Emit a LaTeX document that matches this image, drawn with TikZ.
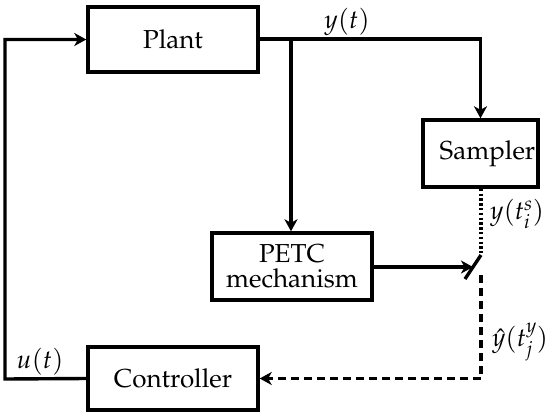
\documentclass[tikz,border=0pt]{standalone}
\usepackage[T1]{fontenc}
\usepackage{mathpazo}
\usetikzlibrary{arrows.meta}
\begin{document}
\begin{tikzpicture}[x=1pt,y=-1pt,
  font=\fontsize{26}{25}\selectfont,
  blk/.style={draw,line width=3.4pt,inner sep=0pt,align=center},
  wire/.style={line width=3.4pt},
  arr/.style={wire,-{Stealth[length=12pt,width=13pt,inset=3.5pt]}},
  dashln/.style={line width=3.4pt,dash pattern=on 8pt off 5pt},
  dotln/.style={line width=3.4pt,dash pattern=on 2.4pt off 2.4pt},
  lbl/.style={inner sep=0pt}]
\useasboundingbox (0,0) rectangle (550,416);
\node[blk,minimum width=170pt,minimum height=65pt] (plant) at (173,39.5) {Plant};
\node[blk,minimum width=115pt,minimum height=67pt] (sampler) at (480.5,153.5) {\hspace*{14pt}Sampler};
\node[blk,minimum width=160pt,minimum height=67pt] (petc) at (292,266.5) {PETC\\mechanism};
\node[blk,minimum width=170pt,minimum height=63pt] (ctrl) at (173,378.5) {Controller};
\coordinate (b) at (291,39);
\coordinate (sw) at (473,267);
\coordinate (swa) at (465,279);
\coordinate (swb) at (481,255);
\coordinate (dtop) at (481,253);
\coordinate (dbot) at (481,275);
\coordinate (lc) at (5,379);
\draw[arr] (plant.east |- b) -| (sampler.north);
\draw[arr] (b) -- (b |- petc.north);
\draw[arr] (petc.east |- sw) -- (sw);
\draw[wire] (swa) -- (swb);
\draw[dotln] (sampler.south -| dtop) -- (dtop);
\draw[dashln,-{Stealth[length=12pt,width=13pt,inset=3.5pt]}] (dbot) |- (ctrl.east);
\draw[arr] (ctrl.west) -- (lc) |- (plant.west);
\node[lbl] (ly) at (347,22) {$y(t)$};
\node[lbl] (lys) at (517,214) {$y(t_i^s)$};
\node[lbl] (lyh) at (520,342) {$\hat{y}(t_j^y)$};
\node[lbl] (lu) at (40,362) {$u(t)$};
\end{tikzpicture}
\end{document}
